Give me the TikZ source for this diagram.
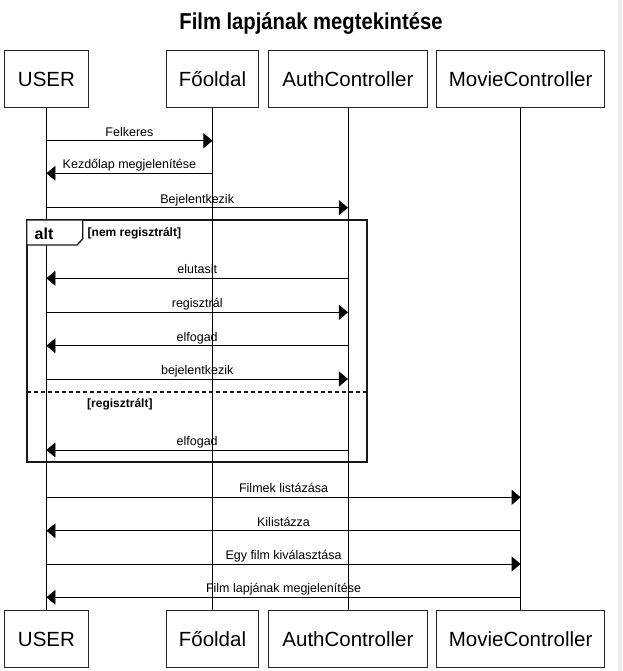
\documentclass[tikz,border=0pt]{standalone}
\usepackage{fontspec}
\setmainfont{Liberation Sans}
\usetikzlibrary{arrows.meta}
\begin{document}
\begin{tikzpicture}[x=1pt,y=-1pt,
  part/.style={draw=black!85, line width=0.9pt, minimum width=#1, minimum height=57pt,
    inner sep=0pt, anchor=north west, font=\fontsize{20.5}{24}\selectfont},
  life/.style={draw=black, line width=0.9pt},
  msg/.style={draw=black, line width=0.9pt, -{Triangle[length=9pt,width=15pt]}},
  lbl/.style={midway, anchor=base, yshift=4.5pt, inner sep=0pt, font=\fontsize{12.5}{15}\selectfont},
  guard/.style={anchor=base west, inner sep=0pt, font=\bfseries\fontsize{12}{14}\selectfont},
  altframe/.style={draw=black!90, line width=1.6pt},
]
\path[use as bounding box, fill=white] (0,0) rectangle (622,671);
\fill[black!7] (618,0) rectangle (622,671);

\node[anchor=base, inner sep=0pt, font=\bfseries\fontsize{23}{27}\selectfont] (title) at (311,30) {\scalebox{0.88}[1]{Film lapjának megtekintése}};

% top participants
\node[part=84pt] (uT) at (4,50) {USER};
\node[part=92.6pt] (fT) at (165.7,50) {Főoldal};
\node[part=158.4pt] (aT) at (268.3,50) {AuthController};
\node[part=168.3pt] (mT) at (436,50) {MovieController};
% bottom participants
\node[part=84pt] (uB) at (4,610) {USER};
\node[part=92.6pt] (fB) at (165.7,610) {Főoldal};
\node[part=158.4pt] (aB) at (268.3,610) {AuthController};
\node[part=168.3pt] (mB) at (436,610) {MovieController};

% lifelines
\draw[life] (uT.south) -- (uB.north);
\draw[life] (fT.south) -- (fB.north);
\draw[life] (aT.south) -- (aB.north);
\draw[life] (mT.south) -- (mB.north);

% alt frame
\draw[altframe] (26.7,220) rectangle (367,462);
\draw[altframe, line width=1.3pt, fill=white] (26.7,220) -- (82.7,220) -- (82.7,239) -- (77,245) -- (26.7,245) -- cycle;
\node[anchor=base, inner sep=0pt, font=\bfseries\fontsize{16}{19}\selectfont] (alt) at (44,239) {alt};
\node[guard] (g1) at (87.5,236) {[nem regisztrált]};
\draw[altframe, line width=1.7pt, dash pattern=on 4pt off 3pt] (26.7,392.3) -- (367,392.3);
\node[guard] (g2) at (87,407) {[regisztrált]};

% message rows
\coordinate (y1) at (0,140.7);
\coordinate (y2) at (0,173.3);
\coordinate (y3) at (0,207.7);
\coordinate (y4) at (0,278.3);
\coordinate (y5) at (0,312.3);
\coordinate (y6) at (0,345.7);
\coordinate (y7) at (0,379);
\coordinate (y8) at (0,450);
\coordinate (y9) at (0,497.3);
\coordinate (y10) at (0,530.7);
\coordinate (y11) at (0,564);
\coordinate (y12) at (0,597.3);

\draw[msg] (uT |- y1) -- node[lbl]{Felkeres} (fT |- y1);
\draw[msg] (fT |- y2) -- node[lbl]{Kezdőlap megjelenítése} (uT |- y2);
\draw[msg] (uT |- y3) -- node[lbl]{Bejelentkezik} (aT |- y3);
\draw[msg] (aT |- y4) -- node[lbl]{elutasit} (uT |- y4);
\draw[msg] (uT |- y5) -- node[lbl]{regisztrál} (aT |- y5);
\draw[msg] (aT |- y6) -- node[lbl]{elfogad} (uT |- y6);
\draw[msg] (uT |- y7) -- node[lbl]{bejelentkezik} (aT |- y7);
\draw[msg] (aT |- y8) -- node[lbl]{elfogad} (uT |- y8);
\draw[msg] (uT |- y9) -- node[lbl]{Filmek listázása} (mT |- y9);
\draw[msg] (mT |- y10) -- node[lbl]{Kilistázza} (uT |- y10);
\draw[msg] (uT |- y11) -- node[lbl]{Egy film kiválasztása} (mT |- y11);
\draw[msg] (mT |- y12) -- node[lbl]{Film lapjának megjelenítése} (uT |- y12);
\end{tikzpicture}
\end{document}
